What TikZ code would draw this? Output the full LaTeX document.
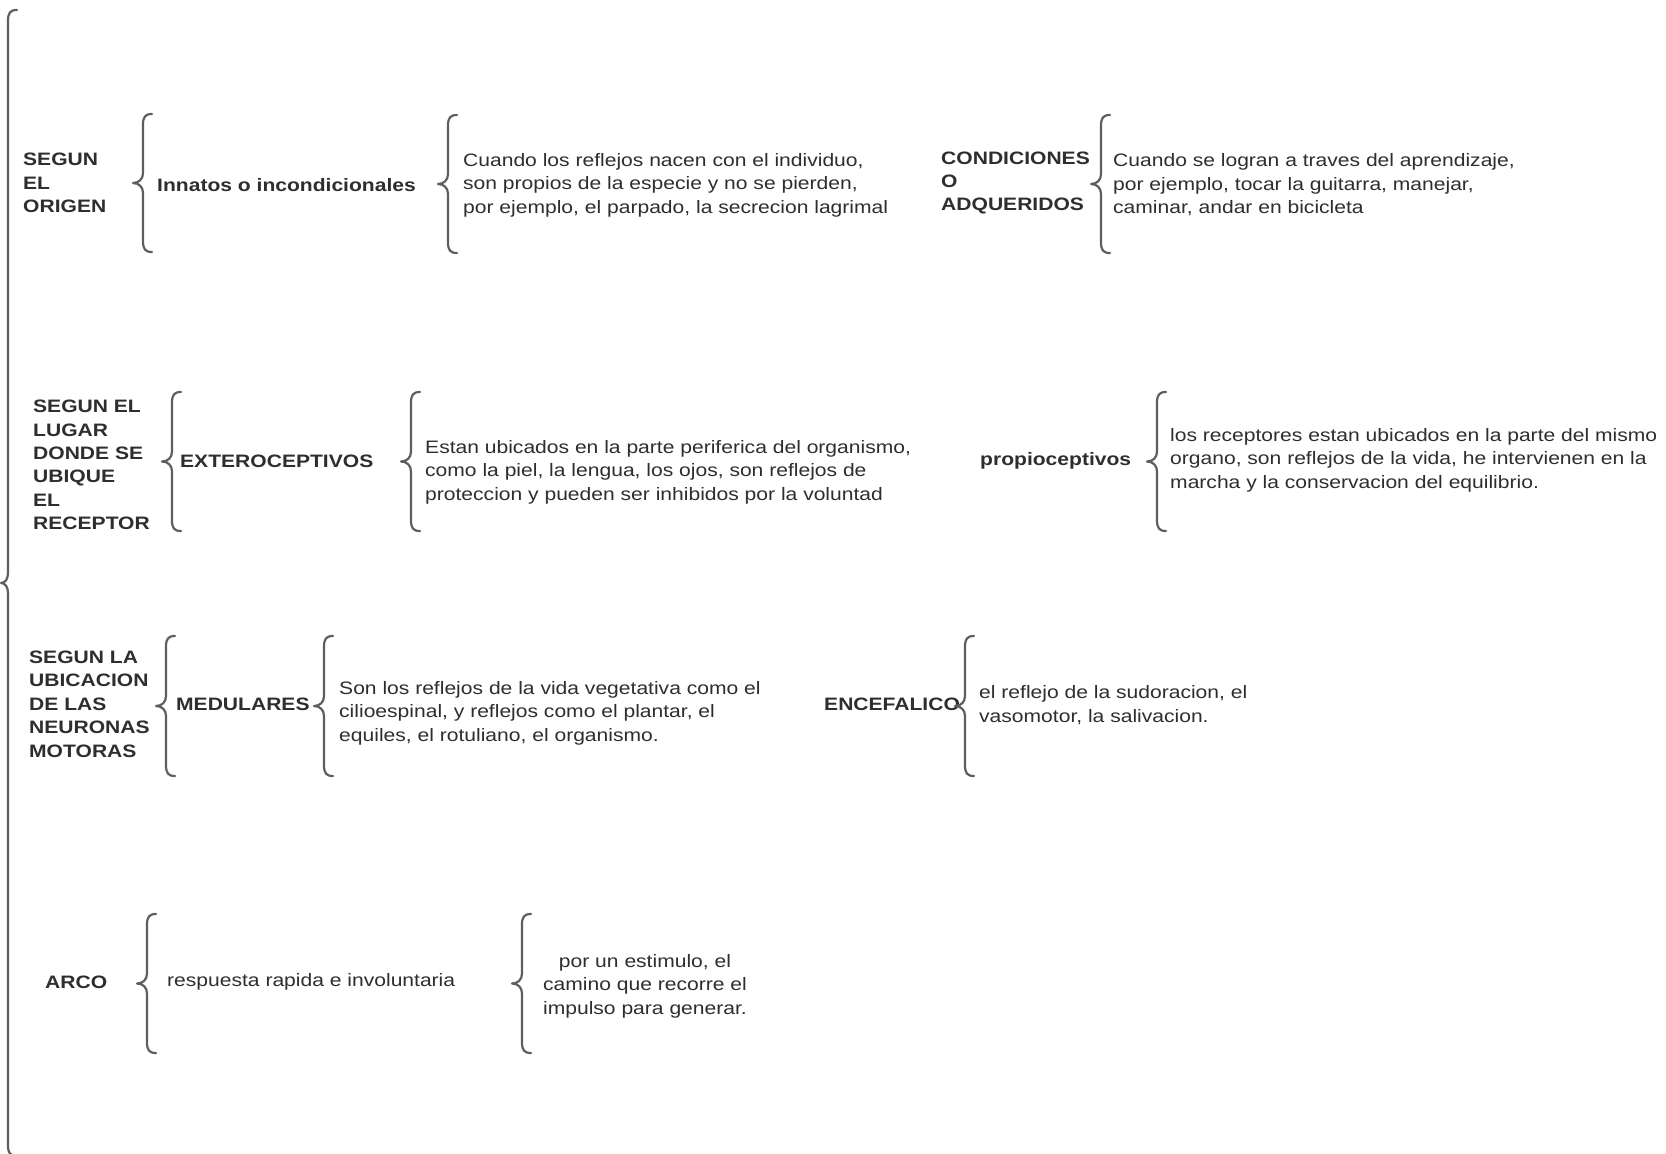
\documentclass[tikz,border=0pt]{standalone}
\usepackage{fontspec}
\setmainfont[FakeStretch=1.17]{Liberation Sans}
\definecolor{txt}{HTML}{2E2E2E}
\definecolor{brc}{HTML}{5E5E5E}
\tikzset{
  bracestyle/.style={draw=brc, line width=2.2pt, line cap=round, line join=round},
  lbl/.style={font=\fontsize{18}{23.4}\selectfont\bfseries, text=txt, inner sep=0pt, anchor=west, align=left, yshift=-2pt},
  body/.style={font=\fontsize{18}{23.4}\selectfont, text=txt, inner sep=0pt, anchor=west, align=left, yshift=-2pt},
  bodyc/.style={font=\fontsize{18}{23.4}\selectfont, text=txt, inner sep=0pt, align=center, yshift=-2pt}
}
% #1 tip depth, #2 line x, #3 top y, #4 bottom y
\newcommand\cbrace[4][10]{%
  \pgfmathsetmacro\cbm{(#3+#4)/2}%
  \draw[bracestyle] ({#2+9},#3) .. controls ({#2+2},#3) and (#2,{#3+3}) .. (#2,{#3+11})
    -- (#2,{\cbm-10}) .. controls (#2,{\cbm-4}) and ({#2-#1*0.4},\cbm) .. ({#2-#1},\cbm)
    .. controls ({#2-#1*0.4},\cbm) and (#2,{\cbm+4}) .. (#2,{\cbm+10})
    -- (#2,{#4-11}) .. controls (#2,{#4-3}) and ({#2+2},#4) .. ({#2+9},#4);}
\begin{document}
\begin{tikzpicture}[x=1pt,y=-1pt]
\useasboundingbox (0,0) rectangle (1666,1154);
\fill[white] (0,0) rectangle (1666,1154);

% big brace
\cbrace[7]{8}{10}{1156}

% Row 1
\node[lbl] (o1) at (23,181) {SEGUN\\EL\\ORIGEN};
\cbrace{143}{114}{252}
\node[lbl] (o2) at (157,183) {Innatos o incondicionales};
\cbrace{448}{115}{253}
\node[body] (o3) at (463,183) {Cuando los reflejos nacen con el individuo,\\son propios de la especie y no se pierden,\\por ejemplo, el parpado, la secrecion lagrimal};
\node[lbl] (o4) at (941,181) {CONDICIONES\\O\\ADQUERIDOS};
\cbrace{1101}{115}{253}
\node[body] (o5) at (1113,183) {Cuando se logran a traves del aprendizaje,\\por ejemplo, tocar la guitarra, manejar,\\caminar, andar en bicicleta};

% Row 2
\node[lbl] (r1) at (33,463) {SEGUN EL\\LUGAR\\DONDE SE\\UBIQUE\\EL\\RECEPTOR};
\cbrace{172}{392}{531}
\node[lbl] (r2) at (180,459) {EXTEROCEPTIVOS};
\cbrace{411}{392}{531}
\node[body] (r3) at (425,470) {Estan ubicados en la parte periferica del organismo,\\como la piel, la lengua, los ojos, son reflejos de\\proteccion y pueden ser inhibidos por la voluntad};
\node[lbl] (r4) at (980,459) {propioceptivos};
\cbrace{1157}{392}{531}
\node[body] (r5) at (1170,458) {los receptores estan ubicados en la parte del mismo\\organo, son reflejos de la vida, he intervienen en la\\marcha y la conservacion del equilibrio.};

% Row 3
\node[lbl] (m1) at (29,702) {SEGUN LA\\UBICACION\\DE LAS\\NEURONAS\\MOTORAS};
\cbrace{166}{636}{776}
\node[lbl] (m2) at (176,702) {MEDULARES};
\cbrace{324}{636}{776}
\node[body] (m3) at (339,711) {Son los reflejos de la vida vegetativa como el\\cilioespinal, y reflejos como el plantar, el\\equiles, el rotuliano, el organismo.};
\node[lbl] (m4) at (824,702) {ENCEFALICO};
\cbrace{965}{636}{776}
\node[body] (m5) at (979,703) {el reflejo de la sudoracion, el\\vasomotor, la salivacion.};

% Row 4
\node[lbl] (a1) at (45,980) {ARCO};
\cbrace{147}{914}{1053}
\node[body] (a2) at (167,980) {respuesta rapida e involuntaria};
\cbrace{522}{914}{1053}
\node[bodyc] (a3) at (645,984) {por un estimulo, el\\camino que recorre el\\impulso para generar.};
\end{tikzpicture}
\end{document}
